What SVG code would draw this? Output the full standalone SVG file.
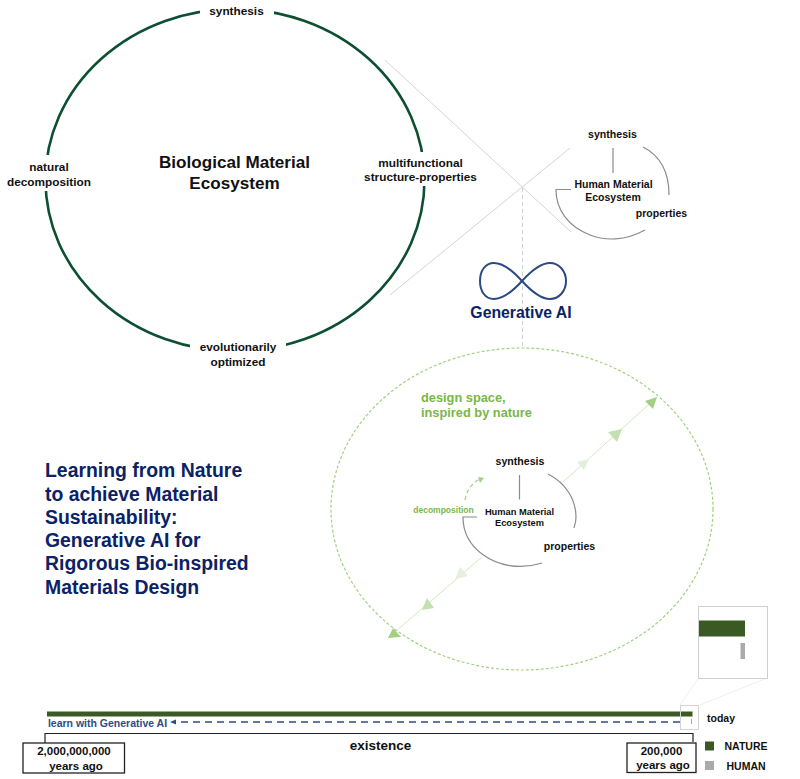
<svg xmlns="http://www.w3.org/2000/svg" width="800" height="779" viewBox="0 0 800 779">
<style>
text{font-family:"Liberation Sans",Arial,sans-serif;font-weight:700;text-anchor:middle;fill:#111}
.l{font-size:11.8px}
.s{font-size:10.6px}
.h{font-size:10.5px}
.h2{font-size:9.3px}
.navy{fill:#0b2265}
.g{fill:#7ab648}
.thin{fill:none;stroke:#d4d4d4;stroke-width:1}
.arc{fill:none;stroke:#8c8c8c;stroke-width:1.2}
.box{fill:#fff;stroke:#222;stroke-width:1.3}
.lg{text-anchor:start;font-size:10.5px}
.t{text-anchor:start;font-size:19.4px}
</style>
<rect width="800" height="779" fill="#fff"/>
<g id="connectors">
<path class="thin" d="M385 60L571 232M390 295L570 148"/>
<path d="M522.500 188V347" fill="none" stroke="#cfcfcf" stroke-width="1" stroke-dasharray="4 3"/>
<path d="M563 482L657 397M482 557L388 638" fill="none" stroke="#d3e8c3" stroke-width="1"/>
<path d="M465 500Q468 484 482 478" fill="none" stroke="#a5cf85" stroke-width="1.200" stroke-dasharray="4 3"/>
<path d="M478 477L484 478L480 483Z" fill="#a5cf85"/>
<path d="M680 722H172" fill="none" stroke="#2f4d85" stroke-width="1.500" stroke-dasharray="7 5"/>
<path d="M170 722L176 719.500V724.500Z" fill="#2f4d85"/>
<path d="M45 743V733.500H693V742" fill="none" stroke="#222" stroke-width="1.200"/>
<path d="M698 679L680 705M767 678L700 705" fill="none" stroke="#efefef" stroke-width="1"/>
</g>
<g id="bio-ecosystem">
<ellipse cx="235" cy="180" rx="189.500" ry="171" fill="none" stroke="#0d4f32" stroke-width="2.600"/>
<rect x="200" y="2" width="74" height="18" fill="#fff"/>
<rect x="2" y="155" width="92" height="36" fill="#fff"/>
<rect x="372" y="152" width="82" height="34" fill="#fff"/>
<rect x="190" y="340" width="96" height="34" fill="#fff"/>
<text class="l" x="236.500" y="15">synthesis</text>
<text class="l" x="49" y="171">natural</text>
<text class="l" x="49" y="186">decomposition</text>
<text class="l" x="420.500" y="167">multifunctional</text>
<text class="l" x="420.500" y="181">structure-properties</text>
<text class="l" x="238" y="351">evolutionarily</text>
<text class="l" x="238" y="366">optimized</text>
<text x="234.500" y="168" font-size="17.100px">Biological Material</text>
<text x="234.500" y="189" font-size="17.100px">Ecosystem</text>
</g>
<g id="human-ecosystem-top">
<path class="arc" d="M613 148V173"/>
<path class="arc" d="M643 147Q669 160 669 195"/>
<path class="arc" d="M645 230C625 241 605 241 590 235C568 226 556 210 556 189.500H571"/>
<text class="s" x="612.500" y="138">synthesis</text>
<text class="h" x="613.500" y="188">Human Material</text>
<text class="h" x="613" y="201">Ecosystem</text>
<text class="h" x="661.500" y="217">properties</text>
</g>
<g id="generative-ai">
<path d="M522 281C512 270 502 263 494 263C485 263 480 271 480 281C480 291 485 299 494 299C502 299 512 292 522 281C532 270 542 263 550 263C559 263 566 271 566 281C566 291 559 299 550 299C542 299 532 292 522 281Z" fill="none" stroke="#2c4a80" stroke-width="2"/>
<text class="navy" x="521" y="318" font-size="15.800px">Generative AI</text>
</g>
<g id="design-space">
<ellipse cx="522" cy="509" rx="191" ry="161" fill="none" stroke="#a5d080" stroke-width="1.200" stroke-dasharray="3 2"/>
<path d="M657 397L645 401L653 409Z" fill="#a5cf85"/>
<path d="M622 429L608 432L617 442Z" fill="#c5e0b0"/>
<path d="M589 459L577 462L584 470Z" fill="#e4f0da"/>
<path d="M388 638L401 637L393 628Z" fill="#a5cf85"/>
<path d="M422 610L434 608L427 598Z" fill="#c5e0b0"/>
<path d="M455 579L468 576L460 567Z" fill="#e4f0da"/>
<text class="g" x="421" y="402" font-size="12.800px" style="text-anchor:start">design space,</text>
<text class="g" x="421" y="417" font-size="12.800px" style="text-anchor:start">inspired by nature</text>
</g>
<g id="human-ecosystem-bottom">
<path class="arc" d="M519.500 475V499.500"/>
<path class="arc" d="M548 474C566 483 576 500 576 517C576 520 575 525 574 528"/>
<path class="arc" d="M542 563C520 570 498 566 482 554C470 545 463 532 463 517H477"/>
<text class="s" x="520" y="465">synthesis</text>
<text class="h2" x="519.500" y="515">Human Material</text>
<text class="h2" x="519.500" y="526">Ecosystem</text>
<text class="h" x="569.500" y="550">properties</text>
<text class="g" x="443.500" y="513" font-size="8.500px">decomposition</text>
</g>
<g id="title">
<text class="navy t" x="45" y="477">Learning from Nature</text>
<text class="navy t" x="45" y="501">to achieve Material</text>
<text class="navy t" x="45" y="524">Sustainability:</text>
<text class="navy t" x="45" y="547">Generative AI for</text>
<text class="navy t" x="45" y="570">Rigorous Bio-inspired</text>
<text class="navy t" x="45" y="594">Materials Design</text>
</g>
<g id="timeline">
<rect x="47" y="711.500" width="645.500" height="5" fill="#3b5a23"/>
<rect x="691" y="719" width="1" height="5" fill="#aaa"/>
<text x="107.500" y="727" font-size="10.500px" style="fill:#2f4d85">learn with Generative AI</text>
<rect x="680.500" y="705.500" width="18" height="24" fill="none" stroke="#d4d4d4"/>
<rect x="23" y="743" width="101.500" height="30" class="box"/>
<text x="74" y="755" font-size="11.500px">2,000,000,000</text>
<text x="76" y="769.500" font-size="11.500px">years ago</text>
<rect x="627" y="743" width="69" height="29.500" class="box"/>
<text x="661.500" y="755" font-size="11.500px">200,000</text>
<text x="663" y="769" font-size="11.500px">years ago</text>
<text x="380.500" y="750" font-size="13.500px">existence</text>
<text x="707" y="722" style="text-anchor:start;font-size:10.500px">today</text>
</g>
<g id="zoom-inset">
<rect x="698.500" y="606.500" width="69" height="72" fill="#fff" stroke="#cfcfcf"/>
<rect x="699" y="620.500" width="46" height="16" fill="#3b5a23"/>
<rect x="740.500" y="643" width="4.500" height="16" fill="#aaa"/>
</g>
<g id="legend">
<rect x="705" y="741.500" width="9" height="9" fill="#3b5a23"/>
<rect x="705" y="761" width="9" height="9" fill="#aaa"/>
<text class="lg" x="724.500" y="750">NATURE</text>
<text class="lg" x="726.500" y="770">HUMAN</text>
</g>
</svg>
